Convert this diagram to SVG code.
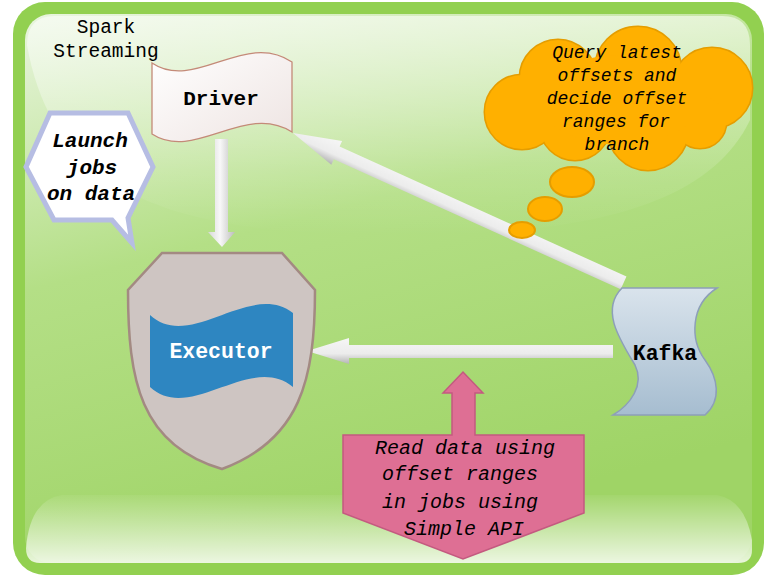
<svg xmlns="http://www.w3.org/2000/svg" width="764" height="576" viewBox="0 0 764 576">
<style>
.mono{font-family:"Liberation Mono","DejaVu Sans Mono",monospace;fill:#000}
.b{font-weight:bold}
.i{font-style:italic}
.c{text-anchor:middle}
</style>
<defs>
<linearGradient id="bg" x1="0" y1="0" x2="0.35" y2="1">
<stop offset="0" stop-color="#e9f5df"/>
<stop offset="0.45" stop-color="#b4df86"/>
<stop offset="1" stop-color="#9fd466"/>
</linearGradient>
<linearGradient id="hl" x1="0" y1="0" x2="0" y2="1">
<stop offset="0" stop-color="#ffffff" stop-opacity="0.55"/>
<stop offset="0.7" stop-color="#ffffff" stop-opacity="0.12"/>
<stop offset="1" stop-color="#ffffff" stop-opacity="0"/>
</linearGradient>
<linearGradient id="bot" x1="0" y1="0" x2="0" y2="1">
<stop offset="0" stop-color="#ffffff" stop-opacity="0.05"/>
<stop offset="1" stop-color="#ffffff" stop-opacity="0.8"/>
</linearGradient>
<linearGradient id="arrH" x1="0" y1="0" x2="0" y2="1">
<stop offset="0" stop-color="#f6f6f6"/>
<stop offset="0.6" stop-color="#ececec"/>
<stop offset="1" stop-color="#b4b4b4"/>
</linearGradient>
<linearGradient id="arrV" x1="0" y1="0" x2="1" y2="0">
<stop offset="0" stop-color="#d8d8d8"/>
<stop offset="0.45" stop-color="#f8f8f8"/>
<stop offset="1" stop-color="#bcbcbc"/>
</linearGradient>
<linearGradient id="drv" x1="0" y1="0" x2="1" y2="1">
<stop offset="0" stop-color="#ffffff"/>
<stop offset="1" stop-color="#eee4e2"/>
</linearGradient>
<linearGradient id="kaf" x1="0" y1="0" x2="0" y2="1">
<stop offset="0" stop-color="#d9e3ec"/>
<stop offset="1" stop-color="#a6bdd0"/>
</linearGradient>
</defs>

<g id="background">
<rect x="13" y="2" width="751" height="573" rx="32" fill="#92d050"/>
<rect x="25" y="14" width="727" height="549" rx="26" fill="url(#bg)"/>
<path d="M27,45 Q27,16 55,16 L722,16 Q750,16 750,45 L750,120 C705,215 560,235 400,235 C190,235 55,205 27,45 Z" fill="url(#hl)"/>
<path d="M62,495 L717,495 Q745,500 752,540 L752,550 Q752,563 738,563 L40,563 Q26,563 26,548 Q30,500 62,495 Z" fill="url(#bot)"/>
</g>

<g id="connectors">
<polygon points="215,139 228,139 228,232 235,232 222,247 208,232 215,232" fill="url(#arrV)"/>
<polygon points="307,351 349,338 349,345 613,345 613,358 349,358 349,364" fill="url(#arrH)"/>
<polygon transform="translate(293,133) rotate(24.4)" points="0,0 48,-13 48,-7 363,-7 363,7 48,7 48,13" fill="url(#arrH)"/>
</g>

<g id="spark-streaming">
<text class="mono c" x="106" y="33" font-size="19.5">Spark</text>
<text class="mono c" x="106" y="57" font-size="19.5">Streaming</text>
</g>

<g id="driver">
<path d="M152,63 C195,92 245,30 292,62 L292,132 C245,102 195,162 152,134 Z" fill="url(#drv)" stroke="#c48a78" stroke-width="1.3"/>
<text class="mono b c" x="221" y="105" font-size="21">Driver</text>
</g>

<g id="launch">
<polygon points="50,113 128,113 153,167 128,218 132,243 112,220 54,220 26,167" fill="#ffffff" stroke="#b6bde3" stroke-width="5" stroke-linejoin="miter"/>
<text class="mono b i c" x="90" y="147" font-size="21">Launch</text>
<text class="mono b i c" x="92" y="174" font-size="21">jobs</text>
<text class="mono b i c" x="91" y="200" font-size="21">on data</text>
</g>

<g id="executor">
<path d="M162,253 L282,253 L315,290 C315,380 300,440 222,469 C140,445 128,380 128,290 Z" fill="#cec5c2" stroke="#a38a82" stroke-width="2.5"/>
<path d="M150,315 C190,352 250,280 293,313 L293,387 C250,352 190,424 150,387 Z" fill="#2e86c1"/>
<text class="mono b c" x="221" y="358" font-size="21.5" style="fill:#ffffff">Executor</text>
</g>

<g id="kafka">
<path d="M622,288 L717,288 C690,305 690,340 705,360 C718,378 722,400 705,415 L613,415 C630,405 645,385 635,365 C620,340 600,310 622,288 Z" fill="url(#kaf)" stroke="#8d9fb8" stroke-width="1.5"/>
<text class="mono b c" x="665" y="360" font-size="21.5">Kafka</text>
</g>

<g id="query-cloud">
<g fill="#ffb000" stroke="#e59d00" stroke-width="3">
<circle cx="522" cy="112" r="37"/>
<circle cx="558" cy="78" r="38"/>
<circle cx="638" cy="70" r="43"/>
<circle cx="712" cy="88" r="40"/>
<circle cx="700" cy="122" r="26"/>
<circle cx="648" cy="130" r="40"/>
<circle cx="575" cy="125" r="35"/>
</g>
<g fill="#ffb000">
<circle cx="522" cy="112" r="37"/>
<circle cx="558" cy="78" r="38"/>
<circle cx="638" cy="70" r="43"/>
<circle cx="712" cy="88" r="40"/>
<circle cx="700" cy="122" r="26"/>
<circle cx="648" cy="130" r="40"/>
<circle cx="575" cy="125" r="35"/>
<ellipse cx="620" cy="100" rx="80" ry="45"/>
</g>
<g fill="#ffb000" stroke="#e59d00" stroke-width="2">
<ellipse cx="572" cy="182" rx="22" ry="15"/>
<ellipse cx="545" cy="209" rx="17" ry="12"/>
<ellipse cx="522" cy="230" rx="13" ry="8"/>
</g>
<text class="mono i c" x="617" y="58" font-size="18">Query latest</text>
<text class="mono i c" x="617" y="81" font-size="18">offsets and</text>
<text class="mono i c" x="617" y="104" font-size="18">decide offset</text>
<text class="mono i c" x="616" y="127" font-size="18">ranges for</text>
<text class="mono i c" x="617" y="150" font-size="18">branch</text>
</g>

<g id="read-data">
<polygon points="343,435 452,435 452,393 443,393 463,372 483,393 475,393 475,435 584,435 584,513 463,559 343,513" fill="#de6f94" stroke="#c45a80" stroke-width="1.5"/>
<text class="mono i c" x="465" y="454" font-size="20">Read data using</text>
<text class="mono i c" x="460" y="480" font-size="20">offset ranges</text>
<text class="mono i c" x="460" y="508" font-size="20">in jobs using</text>
<text class="mono i c" x="464" y="535" font-size="20">Simple API</text>
</g>
</svg>
